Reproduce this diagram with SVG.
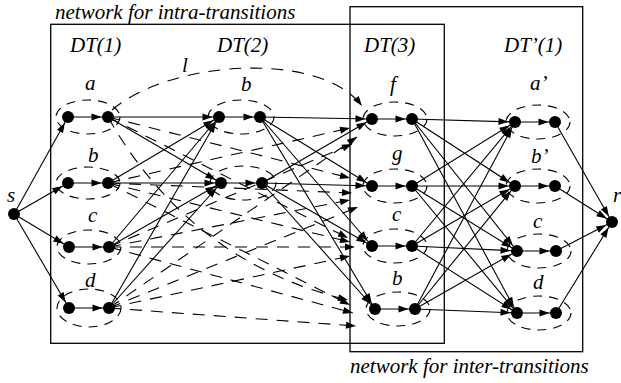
<svg xmlns="http://www.w3.org/2000/svg" width="621" height="383" viewBox="0 0 621 383">
<style>
.n{fill:#000}
.e{fill:none;stroke:#000;stroke-width:1.1;stroke-dasharray:9 7}
.c{fill:none;stroke:#000;stroke-width:1.1;marker-end:url(#a)}
.d{fill:none;stroke:#000;stroke-width:1.1;stroke-dasharray:12 9;marker-end:url(#ad)}
.box{fill:none;stroke:#000;stroke-width:1.3}
text{font-family:"Liberation Serif","Times New Roman",serif;font-style:italic;font-size:21px;fill:#000}
</style>
<defs>
<marker id="a" markerUnits="userSpaceOnUse" markerWidth="20" markerHeight="10" refX="16.5" refY="3.5" orient="auto" overflow="visible"><path d="M0,0 L10,3.5 L0,7 Z" fill="#000"/></marker>
<marker id="ad" markerUnits="userSpaceOnUse" markerWidth="20" markerHeight="10" refX="10" refY="3.5" orient="auto" overflow="visible"><path d="M0,0 L10,3.5 L0,7 Z" fill="#000"/></marker>
</defs>
<rect fill="#fff" x="0" y="0" width="621" height="383"/>
<g id="boxes">
<rect class="box" x="50.7" y="24.3" width="393.6" height="319"/>
<rect class="box" x="350" y="6.7" width="232.7" height="345"/>
<text x="55" y="19">network for intra-transitions</text>
<text x="350" y="373">network for inter-transitions</text>
<text x="70" y="52">DT(1)</text>
<text x="217" y="52">DT(2)</text>
<text x="364" y="52">DT(3)</text>
<text x="504" y="52">DT’(1)</text>
</g>
<g id="connectors">
<line class="c" x1="14" y1="214" x2="68" y2="117"/>
<line class="c" x1="14" y1="214" x2="68" y2="183"/>
<line class="c" x1="14" y1="214" x2="69" y2="247"/>
<line class="c" x1="14" y1="214" x2="69" y2="308"/>
<line class="c" x1="68" y1="117" x2="108" y2="117"/>
<line class="c" x1="68" y1="183" x2="108" y2="183"/>
<line class="c" x1="69" y1="247" x2="109" y2="247"/>
<line class="c" x1="69" y1="308" x2="109" y2="308"/>
<line class="c" x1="108" y1="117" x2="219" y2="117"/>
<line class="c" x1="108" y1="117" x2="221" y2="183"/>
<line class="c" x1="108" y1="183" x2="219" y2="117"/>
<line class="c" x1="108" y1="183" x2="221" y2="183"/>
<line class="c" x1="109" y1="247" x2="219" y2="117"/>
<line class="c" x1="109" y1="247" x2="221" y2="183"/>
<line class="c" x1="109" y1="308" x2="219" y2="117"/>
<line class="c" x1="109" y1="308" x2="221" y2="183"/>
<line class="c" x1="219" y1="117" x2="260" y2="117"/>
<line class="c" x1="221" y1="183" x2="262" y2="183"/>
<line class="c" x1="260" y1="117" x2="372" y2="119"/>
<line class="c" x1="260" y1="117" x2="372" y2="186"/>
<line class="c" x1="260" y1="117" x2="372" y2="246"/>
<line class="c" x1="260" y1="117" x2="375" y2="309"/>
<line class="c" x1="262" y1="183" x2="372" y2="119"/>
<line class="c" x1="262" y1="183" x2="372" y2="186"/>
<line class="c" x1="262" y1="183" x2="372" y2="246"/>
<line class="c" x1="262" y1="183" x2="375" y2="309"/>
<line class="c" x1="372" y1="119" x2="412" y2="119"/>
<line class="c" x1="372" y1="186" x2="412" y2="186"/>
<line class="c" x1="372" y1="246" x2="412" y2="246"/>
<line class="c" x1="375" y1="309" x2="415" y2="309"/>
<line class="c" x1="412" y1="119" x2="515" y2="122"/>
<line class="c" x1="412" y1="119" x2="515" y2="186"/>
<line class="c" x1="412" y1="119" x2="517" y2="251"/>
<line class="c" x1="412" y1="119" x2="517" y2="313"/>
<line class="c" x1="412" y1="186" x2="515" y2="122"/>
<line class="c" x1="412" y1="186" x2="515" y2="186"/>
<line class="c" x1="412" y1="186" x2="517" y2="251"/>
<line class="c" x1="412" y1="186" x2="517" y2="313"/>
<line class="c" x1="412" y1="246" x2="515" y2="122"/>
<line class="c" x1="412" y1="246" x2="515" y2="186"/>
<line class="c" x1="412" y1="246" x2="517" y2="251"/>
<line class="c" x1="412" y1="246" x2="517" y2="313"/>
<line class="c" x1="415" y1="309" x2="515" y2="122"/>
<line class="c" x1="415" y1="309" x2="515" y2="186"/>
<line class="c" x1="415" y1="309" x2="517" y2="251"/>
<line class="c" x1="415" y1="309" x2="517" y2="313"/>
<line class="c" x1="515" y1="122" x2="555" y2="122"/>
<line class="c" x1="515" y1="186" x2="555" y2="186"/>
<line class="c" x1="517" y1="251" x2="556" y2="251"/>
<line class="c" x1="517" y1="313" x2="556" y2="313"/>
<line class="c" x1="555" y1="122" x2="612" y2="222"/>
<line class="c" x1="555" y1="186" x2="612" y2="222"/>
<line class="c" x1="556" y1="251" x2="612" y2="222"/>
<line class="c" x1="556" y1="313" x2="612" y2="222"/>
<path class="d" d="M112,110 C170,60 320,50 362,106"/>
<path class="d" d="M108,183 L350,128"/>
<path class="d" d="M109,247 L352,144"/>
<path class="d" d="M109,308 L357,137"/>
<path class="d" d="M108,117 L350,178"/>
<path class="d" d="M108,183 L352,193"/>
<path class="d" d="M109,247 L350,200"/>
<path class="d" d="M109,308 L358,207"/>
<path class="d" d="M108,117 L348,238"/>
<path class="d" d="M108,183 L350,242"/>
<path class="d" d="M109,247 L355,247"/>
<path class="d" d="M109,308 L350,256"/>
<path class="d" d="M108,117 Q190,262 348,300"/>
<path class="d" d="M108,183 L350,305"/>
<path class="d" d="M109,247 L353,313"/>
<path class="d" d="M109,308 L356,326"/>
<text x="182" y="72">l</text>
</g>
<g id="s"><circle class="n" cx="14" cy="214" r="6"/><text x="7" y="202">s</text></g>
<g id="t"><circle class="n" cx="612" cy="222" r="6"/><text x="613" y="202">r</text></g>
<g id="dt1-a"><ellipse class="e" cx="88" cy="117" rx="32" ry="17"/><circle class="n" cx="68" cy="117" r="6"/><circle class="n" cx="108" cy="117" r="6"/><text x="85" y="90">a</text></g>
<g id="dt1-b"><ellipse class="e" cx="88" cy="183" rx="32" ry="16"/><circle class="n" cx="68" cy="183" r="6"/><circle class="n" cx="108" cy="183" r="6"/><text x="88" y="162">b</text></g>
<g id="dt1-c"><ellipse class="e" cx="89" cy="247" rx="32" ry="17"/><circle class="n" cx="69" cy="247" r="6"/><circle class="n" cx="109" cy="247" r="6"/><text x="88" y="222">c</text></g>
<g id="dt1-d"><ellipse class="e" cx="89" cy="308" rx="32" ry="19"/><circle class="n" cx="69" cy="308" r="6"/><circle class="n" cx="109" cy="308" r="6"/><text x="85" y="287">d</text></g>
<g id="dt2-b"><ellipse class="e" cx="241" cy="117" rx="33" ry="17"/><circle class="n" cx="219" cy="117" r="6"/><circle class="n" cx="260" cy="117" r="6"/><text x="241" y="91">b</text></g>
<g id="dt2-2"><ellipse class="e" cx="243" cy="183" rx="33" ry="17"/><circle class="n" cx="221" cy="183" r="6"/><circle class="n" cx="262" cy="183" r="6"/></g>
<g id="dt3-f"><ellipse class="e" cx="395" cy="119" rx="32" ry="17"/><circle class="n" cx="372" cy="119" r="6"/><circle class="n" cx="412" cy="119" r="6"/><text x="390" y="91">f</text></g>
<g id="dt3-g"><ellipse class="e" cx="395" cy="186" rx="32" ry="17"/><circle class="n" cx="372" cy="186" r="6"/><circle class="n" cx="412" cy="186" r="6"/><text x="392" y="160">g</text></g>
<g id="dt3-c"><ellipse class="e" cx="395" cy="246" rx="32" ry="17"/><circle class="n" cx="372" cy="246" r="6"/><circle class="n" cx="412" cy="246" r="6"/><text x="392" y="221">c</text></g>
<g id="dt3-b"><ellipse class="e" cx="398" cy="309" rx="32" ry="17"/><circle class="n" cx="375" cy="309" r="6"/><circle class="n" cx="415" cy="309" r="6"/><text x="392" y="285">b</text></g>
<g id="dtp-a"><ellipse class="e" cx="538" cy="122" rx="32" ry="17"/><circle class="n" cx="515" cy="122" r="6"/><circle class="n" cx="555" cy="122" r="6"/><text x="530" y="90">a’</text></g>
<g id="dtp-b"><ellipse class="e" cx="538" cy="186" rx="32" ry="17"/><circle class="n" cx="515" cy="186" r="6"/><circle class="n" cx="555" cy="186" r="6"/><text x="531" y="163">b’</text></g>
<g id="dtp-c"><ellipse class="e" cx="539" cy="251" rx="32" ry="17"/><circle class="n" cx="517" cy="251" r="6"/><circle class="n" cx="556" cy="251" r="6"/><text x="533" y="228">c</text></g>
<g id="dtp-d"><ellipse class="e" cx="539" cy="313" rx="32" ry="17"/><circle class="n" cx="517" cy="313" r="6"/><circle class="n" cx="556" cy="313" r="6"/><text x="533" y="289">d</text></g>
</svg>
